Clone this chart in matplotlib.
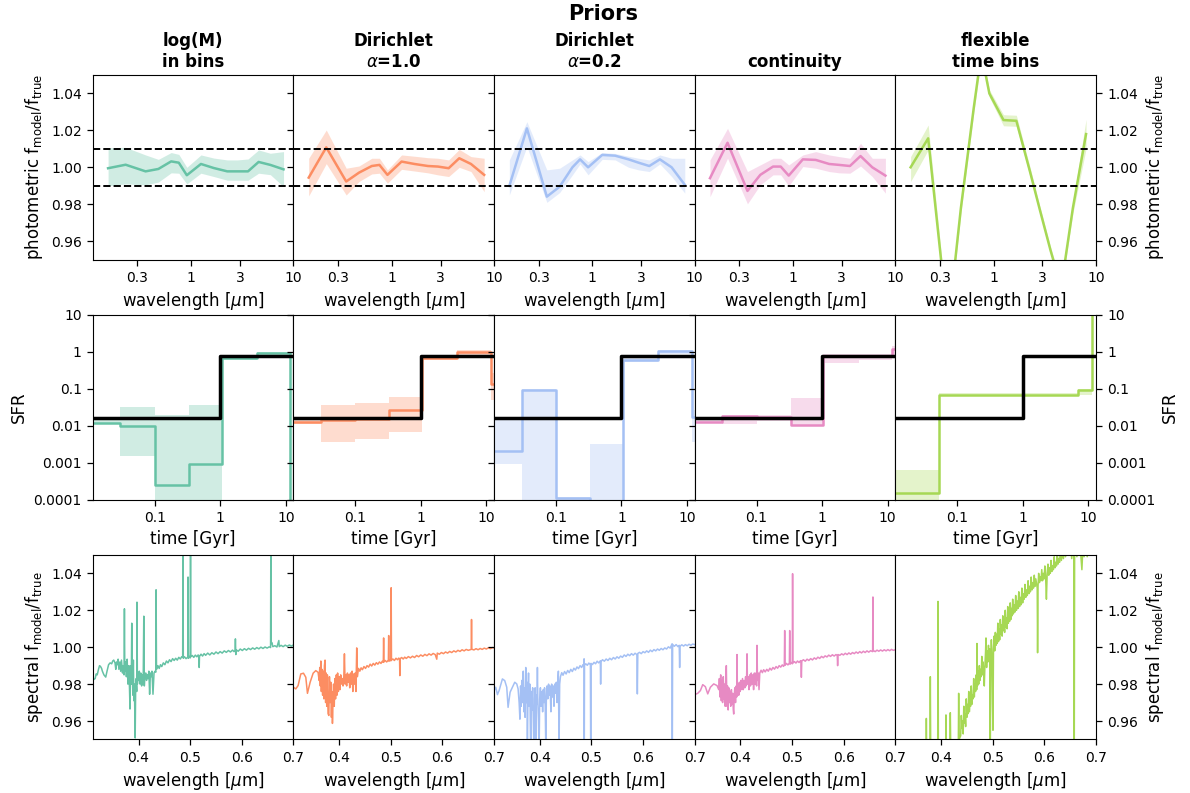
import numpy as np
import matplotlib
matplotlib.use('Agg')
import matplotlib.pyplot as plt
from matplotlib.ticker import FixedLocator, FixedFormatter, NullLocator

## panel colours and column titles
colors = ['#66c2a5', '#fc8d62', '#a4c0f4', '#e78ac3', '#a6d854']
titles = ['log(M)\nin bins', 'Dirichlet\n$\\alpha$=1.0', 'Dirichlet\n$\\alpha$=0.2', 'continuity', 'flexible\ntime bins']

## photometric residuals (top row)
phot_wave = [0.155, 0.23, 0.36, 0.48, 0.64, 0.76, 0.91, 1.25, 1.67, 2.26, 2.83, 3.6, 4.57, 5.95, 8.0]
phot_mid = [
    [0.9995, 1.0014, 0.9978, 0.9991, 1.0032, 1.0025, 0.9957, 1.0018, 0.9996, 0.9978, 0.9978, 0.9978, 1.0029, 1.0013, 0.9989],
    [0.9944, 1.0108, 0.9923, 0.9971, 1.0007, 1.0013, 0.9959, 1.0031, 1.0018, 1.0007, 1.0004, 0.9995, 1.0049, 1.0018, 0.9959],
    [0.9899, 1.0211, 0.9841, 0.9895, 1.0000, 1.0043, 1.0000, 1.0067, 1.0063, 1.0043, 1.0025, 1.0007, 1.0043, 1.0000, 0.9905],
    [0.9941, 1.0133, 0.9872, 0.9959, 1.0004, 1.0004, 0.9955, 1.0043, 1.0040, 1.0018, 1.0013, 1.0007, 1.0061, 1.0000, 0.9955],
    [1.0000, 1.0157, 0.9140, 0.9780, 1.0320, 1.0620, 1.0400, 1.0256, 1.0252, 0.9980, 0.9770, 0.9550, 0.9350, 0.9780, 1.0180],
]
phot_lo = [
    [0.9900, 0.9910, 0.9905, 0.9920, 0.9970, 0.9968, 0.9910, 0.9968, 0.9950, 0.9930, 0.9930, 0.9930, 0.9968, 0.9960, 0.9895],
    [0.9845, 1.0020, 0.9850, 0.9923, 0.9964, 0.9968, 0.9914, 0.9989, 0.9980, 0.9970, 0.9959, 0.9950, 1.0000, 0.9977, 0.9868],
    [0.9850, 1.0112, 0.9810, 0.9863, 0.9959, 1.0018, 0.9959, 1.0043, 1.0040, 1.0000, 0.9986, 0.9977, 1.0018, 0.9950, 0.9860],
    [0.9841, 1.0049, 0.9802, 0.9905, 0.9959, 0.9959, 0.9899, 1.0004, 0.9995, 0.9977, 0.9970, 0.9968, 1.0007, 0.9950, 0.9860],
    [0.9923, 1.0094, 0.9110, 0.9750, 1.0290, 1.0590, 1.0380, 1.0225, 1.0222, 0.9955, 0.9750, 0.9530, 0.9330, 0.9750, 1.0100],
]
phot_hi = [
    [1.0106, 1.0108, 1.0067, 1.0043, 1.0080, 1.0070, 1.0000, 1.0067, 1.0050, 1.0040, 1.0040, 1.0045, 1.0094, 1.0076, 1.0085],
    [1.0049, 1.0202, 0.9995, 1.0007, 1.0049, 1.0049, 0.9986, 1.0067, 1.0060, 1.0052, 1.0049, 1.0040, 1.0097, 1.0058, 1.0049],
    [1.0040, 1.0247, 0.9986, 0.9995, 1.0040, 1.0067, 1.0031, 1.0080, 1.0075, 1.0060, 1.0049, 1.0040, 1.0067, 1.0049, 1.0049],
    [1.0040, 1.0211, 0.9977, 1.0013, 1.0049, 1.0049, 1.0013, 1.0067, 1.0085, 1.0067, 1.0058, 1.0049, 1.0130, 1.0049, 1.0049],
    [1.0058, 1.0229, 0.9170, 0.9810, 1.0350, 1.0650, 1.0420, 1.0285, 1.0282, 1.0005, 0.9790, 0.9570, 0.9370, 0.9810, 1.0260],
]

## star formation histories (middle row)
sfh_edges = [0.001, 0.03, 0.1, 0.33, 1.05, 3.6, 11.7, 13.7]
flex_edges = [0.001, 0.053, 6.9, 11.5, 13.7]
true_edges = [0.001, 1.0, 13.7]
true_sfr = [0.0158, 0.78]
sfh_edges_all = [sfh_edges, sfh_edges, sfh_edges, sfh_edges, flex_edges]
sfh_mid = [
    [0.0121, 0.0100, 0.000246, 0.00091, 0.70, 0.94, 1e-6],
    [0.0129, 0.0143, 0.0149, 0.0266, 0.69, 1.00, 0.133],
    [0.00206, 0.093, 0.00011, 1e-5, 0.59, 1.04, 0.0175],
    [0.0129, 0.0187, 0.0176, 0.0104, 0.76, 0.78, 1.23],
    [0.000151, 0.070, 0.092, 15.0],
]
sfh_lo = [
    [0.0115, 0.00153, 1e-6, 1e-6, 0.62, 0.85, 1e-7],
    [0.0110, 0.0037, 0.0043, 0.0069, 0.60, 0.78, 0.05],
    [0.00089, 1e-6, 1e-6, 1e-6, 0.54, 0.90, 0.0037],
    [0.0121, 0.0110, 0.0137, 0.0098, 0.50, 0.62, 0.73],
    [1e-5, 0.063, 0.066, 10.0],
]
sfh_hi = [
    [0.016, 0.0314, 0.0195, 0.0357, 0.80, 1.00, 1e-5],
    [0.0143, 0.036, 0.0404, 0.061, 0.78, 1.10, 0.27],
    [0.0143, 0.096, 0.00012, 0.0032, 0.72, 1.10, 0.027],
    [0.0143, 0.0195, 0.0195, 0.055, 0.85, 0.90, 1.45],
    [0.00065, 0.078, 0.100, 20.0],
]

## spectral residuals (bottom row), (wavelength [um], ratio)
spec_logm = [
    (0.3116, 0.9840), (0.3135, 0.9825), (0.3160, 0.9830), (0.3180, 0.9855), (0.3200, 0.9850), (0.3225, 0.9880),
    (0.3245, 0.9900), (0.3265, 0.9895), (0.3285, 0.9885), (0.3300, 0.9870), (0.3330, 0.9850), (0.3365, 0.9838),
    (0.3390, 0.9870), (0.3420, 0.9905), (0.3450, 0.9915), (0.3480, 0.9910), (0.3500, 0.9925), (0.3520, 0.9930),
    (0.3545, 0.9915), (0.3560, 0.9880), (0.3575, 0.9920), (0.3590, 0.9905), (0.3605, 0.9935), (0.3620, 0.9880),
    (0.3640, 0.9920), (0.3655, 0.9870), (0.3670, 0.9930), (0.3690, 0.9860), (0.3705, 0.9900), (0.3720, 0.9850),
    (0.3727, 1.0208), (0.3734, 0.9870), (0.3750, 0.9920), (0.3765, 0.9840), (0.3780, 0.9935), (0.3795, 0.9800),
    (0.3810, 0.9900), (0.3825, 0.9780), (0.3835, 0.9665), (0.3845, 0.9900), (0.3860, 0.9800), (0.3869, 1.0130),
    (0.3880, 0.9850), (0.3890, 0.9740), (0.3900, 0.9930), (0.3910, 0.9710), (0.3920, 0.9800), (0.3935, 0.9508),
    (0.3945, 0.9790), (0.3955, 0.9830), (0.3965, 0.9760), (0.3970, 1.0244), (0.3978, 0.9800), (0.3990, 0.9850),
    (0.4000, 0.9820), (0.4015, 0.9870), (0.4030, 0.9800), (0.4045, 0.9860), (0.4060, 0.9790), (0.4075, 0.9850),
    (0.4090, 0.9800), (0.4102, 1.0168), (0.4112, 0.9790), (0.4125, 0.9850), (0.4140, 0.9860), (0.4155, 0.9820),
    (0.4170, 0.9850), (0.4185, 0.9830), (0.4200, 0.9870), (0.4215, 0.9745), (0.4230, 0.9860), (0.4245, 0.9840),
    (0.4260, 0.9870), (0.4280, 0.9745), (0.4300, 0.9860), (0.4320, 0.9870), (0.4335, 0.9865), (0.4340, 1.0311),
    (0.4348, 0.9880), (0.4375, 0.9900), (0.4400, 0.9885), (0.4425, 0.9905), (0.4450, 0.9895), (0.4480, 0.9915),
    (0.4510, 0.9905), (0.4540, 0.9925), (0.4570, 0.9915), (0.4600, 0.9932), (0.4630, 0.9922), (0.4660, 0.9938),
    (0.4690, 0.9928), (0.4720, 0.9940), (0.4750, 0.9930), (0.4780, 0.9945), (0.4810, 0.9936), (0.4835, 0.9948),
    (0.4855, 0.9945), (0.4861, 1.0600), (0.4867, 0.9940), (0.4890, 0.9948), (0.4920, 0.9938), (0.4953, 0.9946),
    (0.4959, 1.0380), (0.4965, 0.9940), (0.4985, 0.9950), (0.5001, 0.9942), (0.5007, 1.0700), (0.5013, 0.9948),
    (0.5040, 0.9955), (0.5070, 0.9945), (0.5100, 0.9957), (0.5130, 0.9948), (0.5155, 0.9958), (0.5170, 0.9945),
    (0.5175, 0.9890), (0.5180, 0.9950), (0.5210, 0.9962), (0.5240, 0.9952), (0.5270, 0.9965), (0.5300, 0.9956),
    (0.5340, 0.9968), (0.5380, 0.9958), (0.5420, 0.9970), (0.5460, 0.9962), (0.5500, 0.9974), (0.5540, 0.9965),
    (0.5580, 0.9976), (0.5620, 0.9968), (0.5660, 0.9980), (0.5700, 0.9972), (0.5740, 0.9982), (0.5780, 0.9974),
    (0.5820, 0.9984), (0.5850, 0.9976), (0.5870, 0.9982), (0.5876, 1.0045), (0.5884, 0.9960), (0.5895, 0.9985),
    (0.5930, 0.9978), (0.5970, 0.9990), (0.6010, 0.9982), (0.6050, 0.9992), (0.6090, 0.9984), (0.6130, 0.9994),
    (0.6170, 0.9987), (0.6210, 0.9996), (0.6250, 0.9989), (0.6290, 0.9998), (0.6330, 0.9991), (0.6370, 1.0000),
    (0.6410, 0.9993), (0.6450, 1.0001), (0.6490, 0.9995), (0.6530, 1.0002), (0.6557, 0.9998), (0.6563, 1.0700),
    (0.6569, 1.0020), (0.6583, 1.0025), (0.6600, 1.0003), (0.6640, 1.0008), (0.6680, 1.0001), (0.6717, 1.0036),
    (0.6725, 1.0003), (0.6760, 1.0010), (0.6800, 1.0003), (0.6840, 1.0011), (0.6880, 1.0005), (0.6920, 1.0012),
    (0.6960, 1.0006), (0.7000, 1.0012),
]
spec_dir1 = [
    (0.3115, 0.9783), (0.3160, 0.9774), (0.3205, 0.9792), (0.3257, 0.9855), (0.3309, 0.9859), (0.3354, 0.9837),
    (0.3386, 0.9750), (0.3438, 0.9810), (0.3496, 0.9859), (0.3547, 0.9873), (0.3592, 0.9864), (0.3612, 0.9820),
    (0.3625, 0.9890), (0.3635, 0.9790), (0.3645, 0.9925), (0.3655, 0.9760), (0.3668, 0.9880), (0.3680, 0.9740),
    (0.3692, 0.9870), (0.3705, 0.9720), (0.3715, 0.9900), (0.3727, 0.9930), (0.3738, 0.9700), (0.3750, 0.9860),
    (0.3760, 0.9680), (0.3772, 0.9850), (0.3785, 0.9640), (0.3800, 0.9630), (0.3812, 0.9840), (0.3825, 0.9700),
    (0.3838, 0.9810), (0.3850, 0.9620), (0.3862, 0.9760), (0.3870, 0.9587), (0.3880, 0.9700), (0.3892, 0.9800),
    (0.3905, 0.9680), (0.3918, 0.9830), (0.3930, 0.9720), (0.3945, 0.9850), (0.3958, 0.9740), (0.3970, 0.9860),
    (0.3985, 0.9760), (0.4000, 0.9840), (0.4015, 0.9770), (0.4030, 0.9850), (0.4045, 0.9800), (0.4060, 0.9830),
    (0.4075, 0.9790), (0.4090, 0.9840), (0.4102, 0.9964), (0.4115, 0.9800), (0.4130, 0.9850), (0.4145, 0.9790),
    (0.4160, 0.9860), (0.4175, 0.9810), (0.4190, 0.9850), (0.4205, 0.9780), (0.4220, 0.9860), (0.4235, 0.9800),
    (0.4250, 0.9870), (0.4265, 0.9760), (0.4280, 0.9855), (0.4295, 0.9800), (0.4310, 0.9860), (0.4325, 0.9760),
    (0.4340, 0.9996), (0.4352, 0.9840), (0.4375, 0.9885), (0.4400, 0.9870), (0.4425, 0.9888), (0.4450, 0.9878),
    (0.4480, 0.9895), (0.4510, 0.9885), (0.4540, 0.9900), (0.4570, 0.9892), (0.4600, 0.9908), (0.4630, 0.9898),
    (0.4660, 0.9912), (0.4690, 0.9903), (0.4720, 0.9916), (0.4750, 0.9908), (0.4780, 0.9920), (0.4810, 0.9912),
    (0.4835, 0.9924), (0.4855, 0.9918), (0.4861, 1.0050), (0.4867, 0.9920), (0.4890, 0.9928), (0.4920, 0.9920),
    (0.4953, 0.9930), (0.4959, 1.0063), (0.4965, 0.9924), (0.4985, 0.9932), (0.5001, 0.9926), (0.5007, 1.0322),
    (0.5013, 0.9930), (0.5040, 0.9936), (0.5070, 0.9928), (0.5100, 0.9940), (0.5130, 0.9932), (0.5155, 0.9941),
    (0.5170, 0.9934), (0.5175, 0.9846), (0.5182, 0.9938), (0.5210, 0.9944), (0.5240, 0.9936), (0.5270, 0.9946),
    (0.5300, 0.9939), (0.5340, 0.9949), (0.5380, 0.9942), (0.5420, 0.9951), (0.5460, 0.9944), (0.5500, 0.9955),
    (0.5540, 0.9948), (0.5580, 0.9958), (0.5620, 0.9951), (0.5660, 0.9961), (0.5700, 0.9954), (0.5740, 0.9964),
    (0.5780, 0.9957), (0.5820, 0.9966), (0.5860, 0.9960), (0.5890, 0.9935), (0.5900, 0.9968), (0.5940, 0.9962),
    (0.5980, 0.9971), (0.6020, 0.9965), (0.6060, 0.9974), (0.6100, 0.9968), (0.6140, 0.9977), (0.6180, 0.9971),
    (0.6220, 0.9980), (0.6260, 0.9974), (0.6300, 0.9983), (0.6340, 0.9977), (0.6380, 0.9986), (0.6420, 0.9980),
    (0.6460, 0.9988), (0.6500, 0.9983), (0.6557, 0.9988), (0.6563, 1.0150), (0.6569, 0.9989), (0.6610, 0.9985),
    (0.6650, 0.9992), (0.6690, 0.9986), (0.6730, 0.9993), (0.6770, 0.9988), (0.6810, 0.9995), (0.6850, 0.9990),
    (0.6890, 0.9997), (0.6930, 0.9992), (0.6970, 0.9998), (0.7000, 0.9996),
]
spec_dir02 = [
    (0.3115, 0.9765), (0.3147, 0.9783), (0.3180, 0.9743), (0.3212, 0.9765), (0.3276, 0.9828), (0.3321, 0.9819),
    (0.3360, 0.9783), (0.3386, 0.9674), (0.3425, 0.9756), (0.3470, 0.9783), (0.3515, 0.9810), (0.3554, 0.9801),
    (0.3580, 0.9774), (0.3600, 0.9700), (0.3615, 0.9610), (0.3628, 0.9790), (0.3640, 0.9680), (0.3652, 0.9820),
    (0.3665, 0.9700), (0.3680, 0.9870), (0.3692, 0.9650), (0.3705, 0.9780), (0.3715, 0.9620), (0.3728, 0.9890),
    (0.3740, 0.9700), (0.3752, 0.9810), (0.3760, 0.9400), (0.3770, 0.9750), (0.3782, 0.9860), (0.3795, 0.9680),
    (0.3808, 0.9800), (0.3825, 0.9350), (0.3838, 0.9760), (0.3850, 0.9660), (0.3862, 0.9780), (0.3875, 0.9600),
    (0.3889, 0.9400), (0.3900, 0.9720), (0.3910, 0.9780), (0.3921, 0.9450), (0.3932, 0.9740), (0.3945, 0.9690),
    (0.3954, 0.9890), (0.3962, 0.9700), (0.3975, 0.9600), (0.3986, 0.9420), (0.3998, 0.9720), (0.4012, 0.9780),
    (0.4025, 0.9680), (0.4040, 0.9760), (0.4055, 0.9650), (0.4068, 0.9770), (0.4080, 0.9700), (0.4092, 0.9780),
    (0.4105, 0.9680), (0.4115, 0.9480), (0.4128, 0.9740), (0.4140, 0.9790), (0.4155, 0.9720), (0.4170, 0.9800),
    (0.4185, 0.9740), (0.4200, 0.9790), (0.4215, 0.9650), (0.4230, 0.9800), (0.4245, 0.9730), (0.4260, 0.9790),
    (0.4275, 0.9680), (0.4290, 0.9800), (0.4305, 0.9750), (0.4320, 0.9810), (0.4335, 0.9700), (0.4350, 0.9820),
    (0.4360, 0.9870), (0.4373, 0.9450), (0.4385, 0.9800), (0.4400, 0.9840), (0.4425, 0.9862), (0.4450, 0.9848),
    (0.4480, 0.9868), (0.4510, 0.9855), (0.4540, 0.9874), (0.4570, 0.9862), (0.4600, 0.9880), (0.4630, 0.9868),
    (0.4660, 0.9886), (0.4690, 0.9876), (0.4720, 0.9893), (0.4750, 0.9884), (0.4780, 0.9900), (0.4810, 0.9890),
    (0.4835, 0.9905), (0.4850, 0.9898), (0.4858, 0.9937), (0.4861, 0.9400), (0.4866, 0.9902), (0.4890, 0.9910),
    (0.4920, 0.9902), (0.4950, 0.9914), (0.4980, 0.9905), (0.4986, 0.9400), (0.4992, 0.9912), (0.5020, 0.9906),
    (0.5050, 0.9918), (0.5080, 0.9910), (0.5110, 0.9924), (0.5140, 0.9915), (0.5172, 0.9926), (0.5178, 0.9800),
    (0.5185, 0.9922), (0.5215, 0.9932), (0.5250, 0.9924), (0.5285, 0.9936), (0.5320, 0.9928), (0.5355, 0.9940),
    (0.5390, 0.9932), (0.5425, 0.9944), (0.5460, 0.9936), (0.5495, 0.9948), (0.5530, 0.9940), (0.5565, 0.9952),
    (0.5600, 0.9945), (0.5635, 0.9958), (0.5670, 0.9950), (0.5705, 0.9962), (0.5740, 0.9954), (0.5775, 0.9965),
    (0.5810, 0.9957), (0.5845, 0.9967), (0.5880, 0.9960), (0.5889, 0.9747), (0.5898, 0.9966), (0.5930, 0.9972),
    (0.5965, 0.9965), (0.6000, 0.9976), (0.6035, 0.9970), (0.6070, 0.9980), (0.6105, 0.9972), (0.6140, 0.9984),
    (0.6175, 0.9976), (0.6210, 0.9987), (0.6245, 0.9980), (0.6280, 0.9990), (0.6315, 0.9983), (0.6350, 0.9993),
    (0.6385, 0.9986), (0.6420, 0.9996), (0.6455, 0.9990), (0.6490, 1.0002), (0.6525, 0.9995), (0.6560, 1.0018),
    (0.6566, 0.9400), (0.6572, 1.0015), (0.6605, 1.0005), (0.6640, 1.0014), (0.6675, 1.0003), (0.6700, 1.0010),
    (0.6708, 0.9890), (0.6716, 1.0005), (0.6750, 1.0013), (0.6785, 1.0006), (0.6820, 1.0014), (0.6855, 1.0008),
    (0.6890, 1.0016), (0.6925, 1.0010), (0.6960, 1.0017), (0.7000, 1.0014),
]
spec_cont = [
    (0.3115, 0.9743), (0.3173, 0.9750), (0.3225, 0.9765), (0.3270, 0.9797), (0.3321, 0.9786), (0.3367, 0.9747),
    (0.3418, 0.9783), (0.3483, 0.9801), (0.3547, 0.9792), (0.3580, 0.9770), (0.3592, 0.9830), (0.3605, 0.9730),
    (0.3618, 0.9850), (0.3630, 0.9710), (0.3642, 0.9820), (0.3655, 0.9700), (0.3668, 0.9840), (0.3680, 0.9720),
    (0.3692, 0.9800), (0.3705, 0.9680), (0.3715, 0.9810), (0.3727, 0.9900), (0.3738, 0.9680), (0.3750, 0.9790),
    (0.3762, 0.9660), (0.3775, 0.9780), (0.3788, 0.9700), (0.3800, 0.9760), (0.3812, 0.9680), (0.3825, 0.9770),
    (0.3838, 0.9690), (0.3850, 0.9750), (0.3862, 0.9660), (0.3870, 0.9638), (0.3880, 0.9740), (0.3892, 0.9780),
    (0.3905, 0.9700), (0.3918, 0.9790), (0.3928, 0.9730), (0.3934, 0.9960), (0.3942, 0.9740), (0.3955, 0.9800),
    (0.3968, 0.9740), (0.3980, 0.9810), (0.3995, 0.9760), (0.4010, 0.9820), (0.4025, 0.9770), (0.4040, 0.9830),
    (0.4055, 0.9770), (0.4070, 0.9820), (0.4085, 0.9780), (0.4100, 0.9840), (0.4110, 0.9790), (0.4120, 0.9840),
    (0.4128, 0.9964), (0.4136, 0.9800), (0.4150, 0.9840), (0.4165, 0.9770), (0.4180, 0.9850), (0.4195, 0.9790),
    (0.4210, 0.9860), (0.4225, 0.9800), (0.4240, 0.9850), (0.4255, 0.9770), (0.4270, 0.9860), (0.4285, 0.9800),
    (0.4300, 0.9860), (0.4313, 0.9790), (0.4321, 1.0010), (0.4330, 0.9820), (0.4345, 0.9860), (0.4360, 0.9770),
    (0.4375, 0.9860), (0.4400, 0.9875), (0.4425, 0.9862), (0.4450, 0.9878), (0.4480, 0.9866), (0.4510, 0.9880),
    (0.4540, 0.9870), (0.4570, 0.9886), (0.4600, 0.9876), (0.4630, 0.9890), (0.4660, 0.9881), (0.4690, 0.9895),
    (0.4720, 0.9886), (0.4750, 0.9900), (0.4780, 0.9892), (0.4810, 0.9904), (0.4835, 0.9896), (0.4850, 0.9906),
    (0.4857, 1.0090), (0.4864, 0.9902), (0.4890, 0.9912), (0.4920, 0.9904), (0.4948, 0.9914), (0.4954, 1.0090),
    (0.4961, 0.9908), (0.4985, 0.9917), (0.5004, 0.9910), (0.5010, 1.0398), (0.5017, 0.9914), (0.5045, 0.9922),
    (0.5075, 0.9914), (0.5105, 0.9925), (0.5135, 0.9917), (0.5165, 0.9927), (0.5172, 0.9920), (0.5180, 0.9837),
    (0.5188, 0.9925), (0.5220, 0.9932), (0.5255, 0.9924), (0.5290, 0.9935), (0.5325, 0.9928), (0.5360, 0.9938),
    (0.5395, 0.9931), (0.5430, 0.9942), (0.5465, 0.9935), (0.5500, 0.9946), (0.5535, 0.9939), (0.5570, 0.9950),
    (0.5605, 0.9943), (0.5640, 0.9953), (0.5675, 0.9947), (0.5710, 0.9957), (0.5745, 0.9950), (0.5780, 0.9959),
    (0.5815, 0.9952), (0.5850, 0.9960), (0.5875, 0.9955), (0.5882, 0.9900), (0.5890, 0.9960), (0.5925, 0.9956),
    (0.5960, 0.9964), (0.5995, 0.9958), (0.6030, 0.9967), (0.6065, 0.9960), (0.6100, 0.9969), (0.6135, 0.9962),
    (0.6170, 0.9971), (0.6205, 0.9965), (0.6240, 0.9974), (0.6275, 0.9967), (0.6310, 0.9976), (0.6345, 0.9969),
    (0.6380, 0.9978), (0.6415, 0.9971), (0.6450, 0.9980), (0.6485, 0.9973), (0.6520, 0.9981), (0.6560, 0.9976),
    (0.6566, 1.0272), (0.6572, 0.9982), (0.6610, 0.9976), (0.6645, 0.9984), (0.6680, 0.9978), (0.6715, 0.9985),
    (0.6750, 0.9979), (0.6785, 0.9986), (0.6820, 0.9980), (0.6855, 0.9987), (0.6890, 0.9981), (0.6925, 0.9988),
    (0.6960, 0.9983), (0.7000, 0.9986),
]
spec_flex = [
    (0.3115, 0.9300), (0.3300, 0.9320), (0.3500, 0.9350), (0.3700, 0.9380), (0.3712, 0.9380), (0.3715, 0.9614),
    (0.3720, 0.9390), (0.3785, 0.9400), (0.3792, 0.9840), (0.3800, 0.9400), (0.3935, 0.9420), (0.3941, 1.0248),
    (0.3948, 0.9420), (0.4000, 0.9440), (0.4090, 0.9450), (0.4095, 0.9633), (0.4100, 0.9460), (0.4172, 0.9470),
    (0.4179, 0.9645), (0.4186, 0.9480), (0.4250, 0.9480), (0.4300, 0.9470), (0.4335, 0.9500), (0.4341, 0.9750),
    (0.4348, 0.9500), (0.4380, 0.9520), (0.4392, 0.9630), (0.4404, 0.9560), (0.4416, 0.9600), (0.4428, 0.9530),
    (0.4440, 0.9680), (0.4452, 0.9590), (0.4464, 0.9640), (0.4476, 0.9570), (0.4488, 0.9720), (0.4500, 0.9620),
    (0.4512, 0.9690), (0.4524, 0.9640), (0.4536, 0.9760), (0.4548, 0.9650), (0.4560, 0.9700), (0.4572, 0.9680),
    (0.4584, 0.9790), (0.4596, 0.9690), (0.4608, 0.9740), (0.4620, 0.9720), (0.4632, 0.9830), (0.4644, 0.9730),
    (0.4656, 0.9800), (0.4668, 0.9760), (0.4680, 0.9850), (0.4690, 0.9770), (0.4695, 1.0020), (0.4705, 0.9790),
    (0.4717, 0.9870), (0.4729, 0.9800), (0.4741, 0.9900), (0.4753, 0.9820), (0.4765, 0.9880), (0.4777, 0.9840),
    (0.4789, 0.9950), (0.4801, 0.9850), (0.4813, 0.9920), (0.4825, 0.9870), (0.4837, 0.9790), (0.4849, 0.9900),
    (0.4861, 0.9970), (0.4870, 1.0050), (0.4882, 0.9890), (0.4894, 0.9980), (0.4906, 0.9920), (0.4918, 1.0010),
    (0.4930, 0.9930), (0.4942, 0.9990), (0.4953, 0.9400), (0.4962, 0.9950), (0.4974, 1.0040), (0.4986, 0.9960),
    (0.4996, 0.9690), (0.5005, 0.9550), (0.5015, 0.9990), (0.5027, 1.0060), (0.5039, 0.9980), (0.5051, 1.0080),
    (0.5063, 1.0010), (0.5075, 1.0070), (0.5087, 1.0020), (0.5099, 1.0130), (0.5111, 1.0030), (0.5123, 1.0100),
    (0.5135, 1.0040), (0.5147, 1.0150), (0.5159, 1.0070), (0.5171, 1.0120), (0.5183, 1.0060), (0.5195, 1.0170),
    (0.5207, 1.0090), (0.5219, 1.0150), (0.5231, 1.0080), (0.5243, 1.0200), (0.5255, 1.0110), (0.5267, 1.0160),
    (0.5279, 1.0100), (0.5291, 1.0220), (0.5303, 1.0130), (0.5315, 1.0180), (0.5327, 1.0140), (0.5339, 1.0240),
    (0.5351, 1.0150), (0.5363, 1.0210), (0.5375, 1.0170), (0.5387, 1.0260), (0.5400, 1.0180), (0.5415, 1.0230),
    (0.5430, 1.0190), (0.5445, 1.0280), (0.5460, 1.0200), (0.5475, 1.0250), (0.5490, 1.0210), (0.5505, 1.0300),
    (0.5520, 1.0220), (0.5535, 1.0270), (0.5550, 1.0230), (0.5565, 1.0320), (0.5580, 1.0240), (0.5595, 1.0290),
    (0.5610, 1.0260), (0.5625, 1.0340), (0.5640, 1.0270), (0.5655, 1.0310), (0.5670, 1.0280), (0.5685, 1.0360),
    (0.5700, 1.0290), (0.5715, 1.0330), (0.5730, 1.0300), (0.5745, 1.0380), (0.5760, 1.0310), (0.5775, 1.0350),
    (0.5790, 1.0320), (0.5805, 1.0390), (0.5820, 1.0330), (0.5835, 1.0370), (0.5850, 1.0340), (0.5862, 1.0320),
    (0.5869, 0.9970), (0.5878, 1.0330), (0.5890, 1.0400), (0.5905, 1.0350), (0.5920, 1.0380), (0.5935, 1.0360),
    (0.5950, 1.0420), (0.5965, 1.0360), (0.5980, 1.0400), (0.5995, 1.0370), (0.6010, 1.0440), (0.6025, 1.0380),
    (0.6040, 1.0260), (0.6055, 1.0400), (0.6070, 1.0450), (0.6085, 1.0390), (0.6100, 1.0430), (0.6115, 1.0400),
    (0.6130, 1.0470), (0.6145, 1.0410), (0.6160, 1.0440), (0.6175, 1.0420), (0.6190, 1.0490), (0.6205, 1.0430),
    (0.6220, 1.0460), (0.6235, 1.0440), (0.6250, 1.0510), (0.6265, 1.0450), (0.6280, 1.0480), (0.6295, 1.0460),
    (0.6310, 1.0530), (0.6330, 1.0470), (0.6350, 1.0510), (0.6370, 1.0480), (0.6390, 1.0540), (0.6410, 1.0490),
    (0.6430, 1.0520), (0.6450, 1.0500), (0.6470, 1.0560), (0.6490, 1.0500), (0.6510, 1.0540), (0.6530, 1.0480),
    (0.6550, 1.0550), (0.6572, 1.0500), (0.6579, 0.9400), (0.6586, 1.0500), (0.6610, 1.0560), (0.6630, 1.0490),
    (0.6650, 1.0540), (0.6670, 1.0500), (0.6690, 1.0560), (0.6710, 1.0480), (0.6727, 1.0420), (0.6745, 1.0530),
    (0.6770, 1.0490), (0.6800, 1.0560), (0.6830, 1.0490), (0.6860, 1.0550), (0.6890, 1.0500), (0.6920, 1.0570),
    (0.6950, 1.0510), (0.6980, 1.0560), (0.7000, 1.0520),
]
spectra = [spec_logm, spec_dir1, spec_dir02, spec_cont, spec_flex]

ratio_ticks = [0.96, 0.98, 1.00, 1.02, 1.04]
sfr_ticks = [1e-4, 1e-3, 1e-2, 1e-1, 1, 10]
sfr_labels = ['0.0001', '0.001', '0.01', '0.1', '1', '10']

plt.rcParams['font.size'] = 10
fig, axes = plt.subplots(3, 5, figsize=(11.9, 7.93), dpi=100)
fig.subplots_adjust(left=0.078, right=0.921, top=0.9054, bottom=0.0675, wspace=0, hspace=0.30)

for i in range(5):
    c = colors[i]
    ## photometry
    ax = axes[0, i]
    ax.fill_between(phot_wave, phot_lo[i], phot_hi[i], color=c, alpha=0.3, lw=0)
    ax.plot(phot_wave, phot_mid[i], color=c, lw=1.8)
    ax.axhline(1.01, color='k', ls='--', lw=1.4)
    ax.axhline(0.99, color='k', ls='--', lw=1.4)
    ax.set_xscale('log')
    ax.set_xlim(0.11, 10)
    ax.set_ylim(0.95, 1.05)
    ax.xaxis.set_major_locator(FixedLocator([0.3, 1, 3, 10]))
    ax.xaxis.set_major_formatter(FixedFormatter(['0.3', '1', '3', '10']))
    ax.xaxis.set_minor_locator(NullLocator())
    ax.set_xlabel('wavelength [$\\mu$m]', fontsize=12)
    ax.set_title(titles[i], fontsize=12, fontweight='bold')

    ## SFH
    ax = axes[1, i]
    e = sfh_edges_all[i]
    ax.fill_between(e, sfh_lo[i] + [sfh_lo[i][-1]], sfh_hi[i] + [sfh_hi[i][-1]], step='post', color=c, alpha=0.3, lw=0)
    ax.plot(e, sfh_mid[i] + [sfh_mid[i][-1]], drawstyle='steps-post', color=c, lw=1.8)
    ax.plot(true_edges, true_sfr + [true_sfr[-1]], drawstyle='steps-post', color='k', lw=2.5)
    ax.set_xscale('log')
    ax.set_yscale('log')
    ax.set_xlim(0.0114, 13.1)
    ax.set_ylim(1e-4, 10)
    ax.xaxis.set_major_locator(FixedLocator([0.1, 1, 10]))
    ax.xaxis.set_major_formatter(FixedFormatter(['0.1', '1', '10']))
    ax.xaxis.set_minor_locator(NullLocator())
    ax.yaxis.set_major_locator(FixedLocator(sfr_ticks))
    ax.yaxis.set_major_formatter(FixedFormatter(sfr_labels))
    ax.yaxis.set_minor_locator(NullLocator())
    ax.set_xlabel('time [Gyr]', fontsize=12)

    ## spectra
    ax = axes[2, i]
    w, v = zip(*spectra[i])
    ax.plot(w, v, color=c, lw=1.1)
    ax.set_xlim(0.3115, 0.7)
    ax.set_ylim(0.95, 1.05)
    ax.set_xticks([0.4, 0.5, 0.6, 0.7])
    ax.set_xticklabels(['0.4', '0.5', '0.6', '0.7'])
    ax.set_xlabel('wavelength [$\\mu$m]', fontsize=12)

for r in range(3):
    for i in range(5):
        ax = axes[r, i]
        ax.tick_params(direction='out', length=4.5, width=0.9, labelsize=10)
        if r != 1:
            ax.set_yticks(ratio_ticks)
            ax.set_yticklabels(['%.2f' % t for t in ratio_ticks])
        if i == 4:
            ax.yaxis.tick_right()
            ax.yaxis.set_label_position('right')
        elif i > 0:
            ax.tick_params(labelleft=False)

ylabs = ['photometric $\\mathrm{f_{model}/f_{true}}$', 'SFR', 'spectral $\\mathrm{f_{model}/f_{true}}$']
for r in range(3):
    axes[r, 0].set_ylabel(ylabs[r], fontsize=12)
    axes[r, 4].set_ylabel(ylabs[r], fontsize=12)

fig.text(0.507, 0.982, 'Priors', ha='center', va='center', fontsize=15, fontweight='bold')

plt.savefig('out.png', dpi=100)
